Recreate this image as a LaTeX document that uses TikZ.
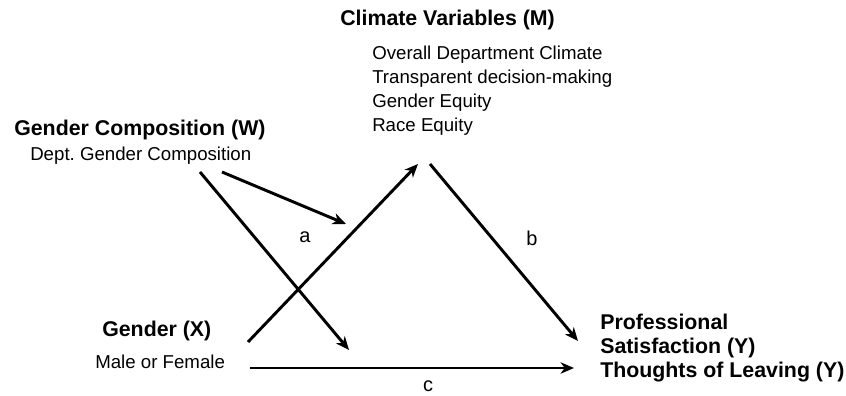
\documentclass[tikz,border=0pt]{standalone}
\usepackage{fontspec}
\setmainfont{Liberation Sans}
\usepackage{tikz}
\usetikzlibrary{arrows.meta,positioning}
\frenchspacing

\tikzset{
  head/.style={inner sep=0pt, font=\fontsize{16}{18}\selectfont\bfseries},
  body/.style={inner sep=0pt, font=\fontsize{14}{18}\selectfont},
  lbl/.style={inner sep=0pt, font=\fontsize{15}{18}\selectfont},
  path/.style={line width=2.2pt, -{Stealth[length=10pt,width=8.5pt,inset=3pt]}}
}

\begin{document}
\begin{tikzpicture}[x=0.75pt,y=-0.75pt]
  \useasboundingbox (0,0) rectangle (846,396);
  \node[head, anchor=west] (mhead) at (340,20) {Climate Variables (M)};
  \node[body, anchor=north west, align=left] (mlist) at (372,46)
    {Overall Department Climate\\Transparent decision-making\\Gender Equity\\Race Equity};
  \node[head, anchor=west] (whead) at (14,130) {Gender Composition (W)};
  \node[body, anchor=west] (wsub) at (30,156) {Dept. Gender Composition};
  \node[head, anchor=west] (xhead) at (102,331) {Gender (X)};
  \node[body, anchor=west] (xsub) at (95,362) {Male or Female};
  \node[head, anchor=north west, align=left] (yhead) at (600,314)
    {Professional\\Satisfaction (Y)\\Thoughts of Leaving (Y)};
  \node[lbl] (a) at (305,237) {a};
  \node[lbl] (b) at (532,238) {b};
  \node[lbl] (c) at (428,386) {c};
  % arrow ends
  \coordinate (xout) at (248,342);
  \coordinate (min) at (418,164);
  \coordinate (mout) at (430,164);
  \coordinate (yin) at (578,341);
  \coordinate (xright) at (250,368);
  \coordinate (yleft) at (574,368);
  \coordinate (wa) at (222,172);
  \coordinate (aend) at (346,224);
  \coordinate (wc) at (200,172);
  \coordinate (cend) at (349,350);
  \draw[path] (xout) -- (min);
  \draw[path] (mout) -- (yin);
  \draw[path] (xright) -- (yleft);
  \draw[path] (wa) -- (aend);
  \draw[path] (wc) -- (cend);
\end{tikzpicture}
\end{document}
